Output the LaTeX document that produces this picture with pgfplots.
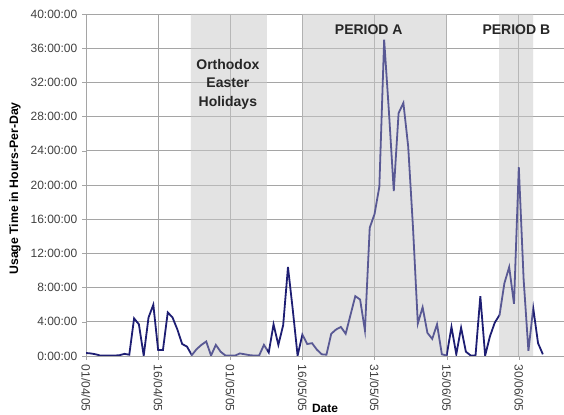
\documentclass[border=0pt]{standalone}
\usepackage{fontspec}
\setmainfont{Liberation Sans}
\usepackage{pgfplots}
\usepackage{pgfplotstable}
\pgfplotsset{compat=1.18}
\usetikzlibrary{calc}

\definecolor{usage}{RGB}{30,30,115}
\definecolor{shade}{RGB}{227,227,227}
\definecolor{gridc}{RGB}{165,165,165}

% day index (0 = 01/04/05) and daily usage in hours
\pgfplotstableread{
day hours
0 0.35
1 0.3
2 0.2
3 0.05
4 0.05
5 0.05
6 0.05
7 0.1
8 0.25
9 0.15
10 4.4
11 3.7
12 0.05
13 4.5
14 6.0
15 0.7
16 0.7
17 5.1
18 4.5
19 3.1
20 1.4
21 1.1
22 0.1
23 0.8
24 1.3
25 1.7
26 0.05
27 1.3
28 0.5
29 0.05
30 0.05
31 0.05
32 0.3
33 0.2
34 0.1
35 0.05
36 0.05
37 1.3
38 0.4
39 3.7
40 1.3
41 3.6
42 10.4
43 5.4
44 0.05
45 2.5
46 1.4
47 1.5
48 0.75
49 0.2
50 0.15
51 2.6
52 3.1
53 3.4
54 2.6
55 4.8
56 7.0
57 6.6
58 3.0
59 15.0
60 16.6
61 19.8
62 37.0
63 28.5
64 19.3
65 28.4
66 29.6
67 24.5
68 15.0
69 3.8
70 5.7
71 2.7
72 2.0
73 3.7
74 0.2
75 0.05
76 3.4
77 0.2
78 3.3
79 0.5
80 0.05
81 0.05
82 7.0
83 0.05
84 2.3
85 3.9
86 4.8
87 8.5
88 10.4
89 6.1
90 22.1
91 9.0
92 0.6
93 5.6
94 1.5
95 0.2
}\usage

\begin{document}
\begin{tikzpicture}
\begin{axis}[
  set layers,
  scale only axis,
  width=358.5pt, height=256.5pt,
  xmin=0, xmax=99.4, ymin=0, ymax=40,
  axis x line=bottom, axis y line=left,
  axis line style={gridc, -},
  xtick={0,15,...,90},
  xticklabels={01/04/05,16/04/05,01/05/05,16/05/05,31/05/05,15/06/05,30/06/05},
  ytick={0,4,...,40},
  yticklabels={0:00:00,4:00:00,8:00:00,12:00:00,16:00:00,20:00:00,24:00:00,28:00:00,32:00:00,36:00:00,40:00:00},
  grid=major,
  major grid style={gridc, line width=0.6pt},
  tick style={gridc},
  tick align=outside,
  major tick length=3pt,
  ticklabel style={font=\fontsize{9}{10}\selectfont, text=black!75},
  xticklabel style={rotate=-90, anchor=west},
  xlabel={Date},
  ylabel={Usage Time in Hours-Per-Day},
  every axis x label/.style={at={(axis description cs:0.5,-0.152)}, anchor=center, font=\bfseries\fontsize{9}{10}\selectfont},
  every axis y label/.style={at={(axis description cs:-0.1485,0.49)}, rotate=90, anchor=center, font=\bfseries\fontsize{9.2}{10}\selectfont},
]
% shaded periods under the grid
\addplot[fill=shade, draw=none, on layer=axis background] coordinates {(21.8,0) (21.8,40) (37.6,40) (37.6,0)} \closedcycle;
\addplot[fill=shade, draw=none, on layer=axis background] coordinates {(45,0) (45,40) (75,40) (75,0)} \closedcycle;
\addplot[fill=shade, draw=none, on layer=axis background] coordinates {(85.9,0) (85.9,40) (93,40) (93,0)} \closedcycle;

\addplot[usage, line width=1.35pt, no markers] table[x=day, y=hours] {\usage};

% same shading laid thinly over the line
\addplot[fill=shade, draw=none, fill opacity=0.3] coordinates {(21.8,0) (21.8,40) (37.6,40) (37.6,0)} \closedcycle;
\addplot[fill=shade, draw=none, fill opacity=0.3] coordinates {(45,0) (45,40) (75,40) (75,0)} \closedcycle;
\addplot[fill=shade, draw=none, fill opacity=0.3] coordinates {(85.9,0) (85.9,40) (93,40) (93,0)} \closedcycle;

\node[font=\bfseries\fontsize{10.5}{14}\selectfont, align=center, text=black!85] at (axis cs:29.5,31.8) {Orthodox\\Easter\\Holidays};
\node[font=\bfseries\fontsize{10.5}{14}\selectfont, text=black!85] at (axis cs:58.8,38.2) {PERIOD A};
\node[font=\bfseries\fontsize{10.5}{14}\selectfont, text=black!85] at (axis cs:89.5,38.2) {PERIOD B};
\end{axis}
\pgfresetboundingbox
\path[use as bounding box] ($(current axis.south west)+(-64.5pt,-43.7pt)$) rectangle ($(current axis.north east)+(0,10.5pt)$);
\end{tikzpicture}
\end{document}
